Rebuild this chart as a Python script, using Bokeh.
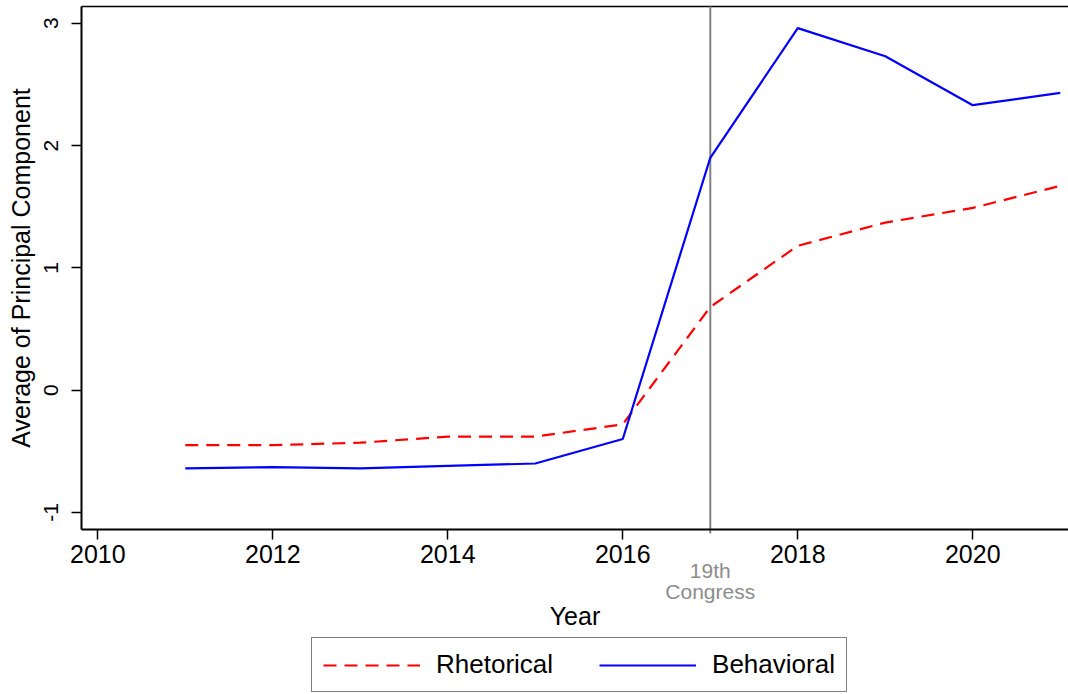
from bokeh.plotting import figure
from bokeh.models import (Range1d, FixedTicker, Label, Legend, LegendItem,
                          ColumnDataSource)
from bokeh.embed import file_html
from bokeh.resources import INLINE

years = [2011, 2012, 2013, 2014, 2015, 2016, 2017, 2018, 2019, 2020, 2021]
rhetorical = [-0.45, -0.45, -0.43, -0.38, -0.38, -0.28, 0.68, 1.18, 1.37, 1.49, 1.67]
behavioral = [-0.64, -0.63, -0.64, -0.62, -0.60, -0.40, 1.90, 2.96, 2.73, 2.33, 2.43]
x_ticks = [2010, 2012, 2014, 2016, 2018, 2020]
y_ticks = [-1, 0, 1, 2, 3]
y_tick_labels = ["-1", "0", "1", "2", "3"]
event_year = 2017
event_lines = ["19th", "Congress"]

FONT = "Liberation Sans"
X_LO, X_HI = 2009.814, 2021.094   # plot region (left axis .. right edge)
Y_LO, Y_HI = -1.137, 3.137        # plot region (bottom axis .. top border)

src = ColumnDataSource(dict(year=years, rhet=rhetorical, beh=behavioral))

p = figure(width=1068, height=694, output_backend="svg", toolbar_location=None,
           x_range=Range1d(2008.888, X_HI), y_range=Range1d(-2.489, 3.186),
           min_border_left=0, min_border_right=0, min_border_top=0,
           min_border_bottom=0)

p.background_fill_color = "white"
p.border_fill_color = "white"
p.outline_line_color = None
p.xgrid.visible = False
p.ygrid.visible = False

# top border of the plot region
p.segment(x0=[X_LO], y0=[Y_HI], x1=[X_HI], y1=[Y_HI], line_color="black", line_width=1.5)

# event line
p.segment(x0=[event_year], y0=[Y_LO - 0.036], x1=[event_year], y1=[Y_HI],
          line_color="#808080", line_width=2)

r1 = p.line("year", "rhet", source=src, line_color="#ff0000", line_width=2.2,
            line_dash="13 8")
r2 = p.line("year", "beh", source=src, line_color="#0000ff", line_width=2.2)

for i, t in enumerate(event_lines):
    p.add_layout(Label(x=event_year, y=-1.475 - 0.17 * i, text=t, text_align="center",
                       text_baseline="middle", text_color="#8c8c8c",
                       text_font_size="21px", text_font=FONT))

xa = p.xaxis[0]
xa.fixed_location = Y_LO
xa.bounds = (X_LO, X_HI)
xa.ticker = FixedTicker(ticks=x_ticks)
xa.axis_label = "Year"
ya = p.yaxis[0]
ya.fixed_location = X_LO
ya.bounds = (Y_LO, Y_HI)
ya.ticker = FixedTicker(ticks=y_ticks)
ya.major_label_overrides = {t: l for t, l in zip(y_ticks, y_tick_labels)}
ya.axis_label = "Average of Principal Component"
ya.major_label_orientation = "vertical"

for ax in (xa, ya):
    ax.axis_line_color = "black"
    ax.axis_line_width = 2
    ax.major_tick_line_color = "black"
    ax.major_tick_line_width = 1.5
    ax.major_tick_out = 10
    ax.major_tick_in = 0
    ax.minor_tick_line_color = None
    ax.major_label_text_font = FONT
    ax.major_label_text_color = "black"
    ax.axis_label_text_font = FONT
    ax.axis_label_text_font_style = "normal"
    ax.axis_label_text_color = "black"
    ax.axis_label_text_font_size = "25px"

xa.major_label_text_font_size = "25px"
xa.major_label_standoff = 6
xa.axis_label_standoff = 35
ya.major_label_text_font_size = "21px"
ya.major_label_standoff = 14
ya.axis_label_standoff = 6

legend = Legend(items=[LegendItem(label="Rhetorical", renderers=[r1]),
                       LegendItem(label="Behavioral", renderers=[r2])],
                orientation="horizontal", location=(311, 2))
legend.label_text_font = FONT
legend.label_text_font_size = "26px"
legend.label_text_color = "black"
legend.glyph_width = 97
legend.glyph_height = 20
legend.label_standoff = 16
legend.spacing = 46
legend.padding = 11
legend.margin = 0
legend.border_line_color = "black"
legend.border_line_width = 1.5
legend.background_fill_color = "white"
p.add_layout(legend)

open("out.html", "w").write(file_html(p, INLINE))
